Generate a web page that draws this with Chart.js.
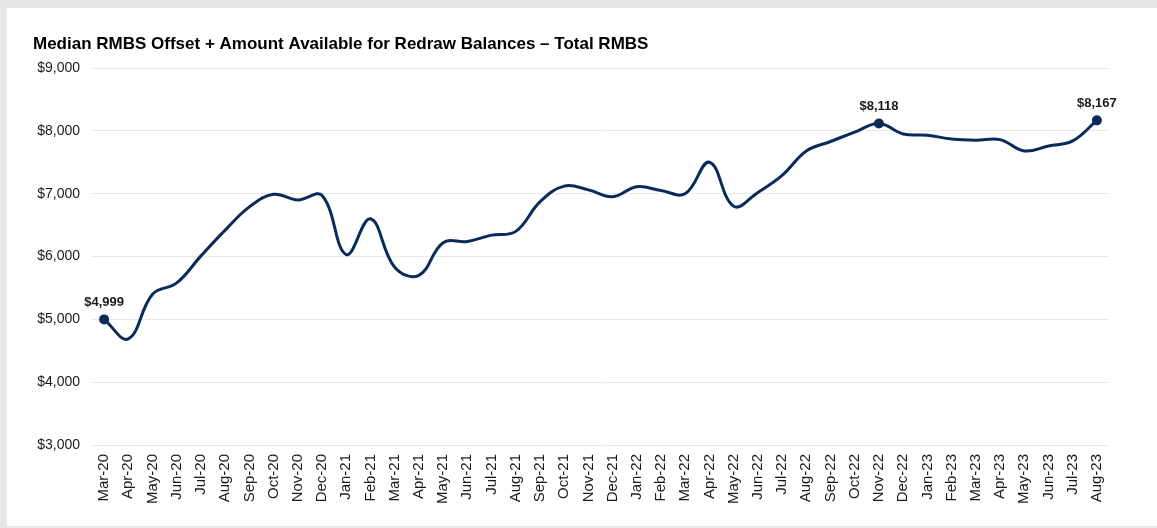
<!DOCTYPE html>
<html>
<head>
<meta charset="utf-8">
<script src="https://cdn.jsdelivr.net/npm/chart.js@4"></script>
<style>
  html, body { margin: 0; padding: 0; background: #e6e7e9; }
  #wrap { position: absolute; left: 7px; top: 8px; width: 1150px; height: 518px; background: #ffffff; }
</style>
</head>
<body>
<div id="wrap"><canvas id="lineChart" width="1150" height="518"></canvas></div>
<script>
var months = ['Mar-20', 'Apr-20', 'May-20', 'Jun-20', 'Jul-20', 'Aug-20', 'Sep-20', 'Oct-20', 'Nov-20', 'Dec-20',
              'Jan-21', 'Feb-21', 'Mar-21', 'Apr-21', 'May-21', 'Jun-21', 'Jul-21', 'Aug-21', 'Sep-21', 'Oct-21', 'Nov-21', 'Dec-21',
              'Jan-22', 'Feb-22', 'Mar-22', 'Apr-22', 'May-22', 'Jun-22', 'Jul-22', 'Aug-22', 'Sep-22', 'Oct-22', 'Nov-22', 'Dec-22',
              'Jan-23', 'Feb-23', 'Mar-23', 'Apr-23', 'May-23', 'Jun-23', 'Jul-23', 'Aug-23'];
var balances = [4999, 4690, 5400, 5580, 6010, 6420, 6790, 6990, 6900, 6970,
                6030, 6600, 5830, 5700, 6220, 6240, 6340, 6400, 6870, 7120, 7060, 6950,
                7110, 7050, 7000, 7500, 6800, 7020, 7290, 7680, 7830, 7980, 8118, 7950,
                7930, 7870, 7850, 7860, 7680, 7760, 7840, 8167];
var labelledPoints = [0, 32, 41];
var yTicks = [3000, 4000, 5000, 6000, 7000, 8000, 9000];

function money(v) {
    return '$' + v.toLocaleString('en-US');
}

// draws the value above the few marked points
var pointLabels = {
    id: 'pointLabels',
    afterDatasetsDraw: function(chart) {
        var ctx = chart.ctx;
        var meta = chart.getDatasetMeta(0);
        ctx.save();
        ctx.font = 'bold 13px "Liberation Sans", Arial, sans-serif';
        ctx.fillStyle = '#1a1a1a';
        ctx.textAlign = 'center';
        ctx.textBaseline = 'middle';
        labelledPoints.forEach(function(i) {
            var p = meta.data[i];
            ctx.fillText(money(balances[i]), p.x, p.y - 17);
        });
        ctx.restore();
    }
};

var ctx = document.getElementById('lineChart').getContext('2d');
var myLineChart = new Chart(ctx, {
    type: 'line',
    data: {
        labels: months,
        datasets: [{
            label: 'Median balance',
            data: balances,
            borderColor: '#0b2a5a',
            backgroundColor: '#0b2a5a',
            borderWidth: 3,
            tension: 0.4,
            pointRadius: function(c) {
                return labelledPoints.indexOf(c.dataIndex) >= 0 ? 3.5 : 0;
            },
            pointHoverRadius: 0
        }]
    },
    options: {
        responsive: false,
        animation: false,
        layout: {
            padding: { top: 26, left: 26, right: 48, bottom: 0 }
        },
        plugins: {
            legend: { display: false },
            tooltip: { enabled: false },
            title: {
                display: true,
                align: 'start',
                text: 'Median RMBS Offset + Amount Available for Redraw Balances \u2013 Total RMBS',
                color: '#000000',
                font: { family: '"Liberation Sans", Arial, sans-serif', size: 17, weight: 'bold', lineHeight: 1.2 },
                padding: { top: 0, bottom: 13.6 }
            }
        },
        scales: {
            x: {
                offset: true,
                grid: { display: false, drawTicks: false },
                border: { display: false },
                ticks: {
                    autoSkip: false,
                    maxRotation: 90,
                    minRotation: 90,
                    padding: 9,
                    color: '#1a1a1a',
                    font: { family: '"Liberation Sans", Arial, sans-serif', size: 15 }
                },
                afterFit: function(scale) { scale.height = 81; }
            },
            y: {
                min: 3000,
                max: 9000,
                afterBuildTicks: function(scale) {
                    scale.ticks = yTicks.map(function(v) { return { value: v }; });
                },
                grid: { color: '#e9e9e9', lineWidth: 1, drawTicks: false },
                border: { display: false },
                ticks: {
                    padding: 12,
                    color: '#1a1a1a',
                    font: { family: '"Liberation Sans", Arial, sans-serif', size: 14 },
                    callback: function(v) { return money(v); }
                },
                afterFit: function(scale) { scale.width = 59; }
            }
        }
    },
    plugins: [pointLabels]
});
</script>
</body>
</html>
